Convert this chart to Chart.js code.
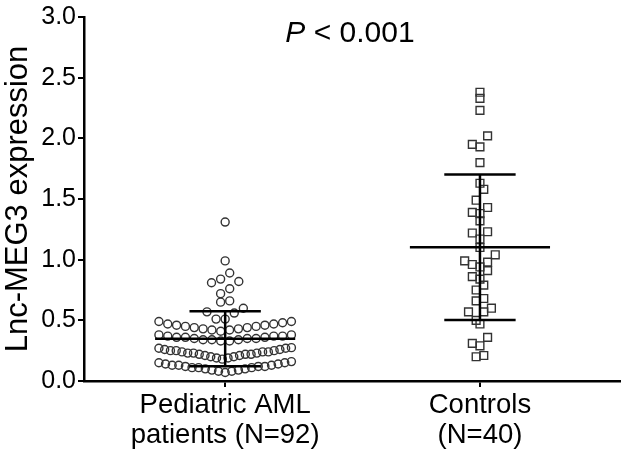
<!DOCTYPE html>
<html>
<head>
<meta charset="utf-8">
<script src="https://cdn.jsdelivr.net/npm/chart.js@4.4.1/dist/chart.umd.min.js"></script>
<style>
  html, body { margin: 0; padding: 0; background: #fff; }
  #wrap { width: 627px; height: 453px; }
</style>
</head>
<body>
<div id="wrap"><canvas id="dotChart" width="627" height="453"></canvas></div>
<script>
// values
const groupLabels = [["Pediatric AML", "patients (N=92)"], ["Controls", "(N=40)"]];
const groupCenters = [1, 2];
const amlValues = [
  1.31, 0.99, 0.89, 0.84, 0.82, 0.81, 0.76, 0.72, 0.66, 0.65, 0.60, 0.57, 0.56, 0.51, 0.51,
  0.41, 0.42, 0.42, 0.43, 0.43, 0.44, 0.44, 0.45, 0.45, 0.46, 0.46, 0.47, 0.47, 0.48, 0.49, 0.49,
  0.33, 0.33, 0.34, 0.34, 0.34, 0.35, 0.35, 0.35, 0.36, 0.36, 0.36, 0.37, 0.37, 0.37, 0.38, 0.38,
  0.18, 0.19, 0.19, 0.20, 0.20, 0.21, 0.21, 0.22, 0.22, 0.22, 0.23, 0.23, 0.23, 0.24, 0.24, 0.24,
  0.25, 0.25, 0.25, 0.26, 0.26, 0.27, 0.27, 0.275,
  0.07, 0.08, 0.08, 0.09, 0.09, 0.10, 0.10, 0.11, 0.11, 0.11, 0.12, 0.12, 0.12, 0.13, 0.13, 0.13,
  0.14, 0.14, 0.15, 0.15, 0.16,
];
const controlValues = [
  2.38, 2.33, 2.23, 2.02, 1.95, 1.93, 1.80, 1.63, 1.58, 1.49,
  1.43, 1.39, 1.38, 1.32, 1.23, 1.22, 1.17, 1.10, 1.04, 0.99,
  0.98, 0.96, 0.94, 0.91, 0.86, 0.84, 0.79, 0.75, 0.68, 0.66,
  0.60, 0.57, 0.57, 0.50, 0.47, 0.36, 0.31, 0.29, 0.21, 0.20,
];
const yTicks = [0, 0.5, 1.0, 1.5, 2.0, 2.5, 3.0];
const yTitle = "Lnc-MEG3 expression";
const pText = ["P", " < 0.001"];

const FONT = "'Liberation Sans', Arial, Helvetica, sans-serif";
Chart.defaults.font.family = FONT;
Chart.defaults.color = "#000";

// spread points of one group sideways, row by row (GraphPad style)
function swarm(values, center, binW, step, maxW) {
  const bins = {};
  values.forEach((v) => {
    const k = Math.floor((v - 0.06) / binW + 1e-9);
    (bins[k] = bins[k] || []).push(v);
  });
  const pts = [];
  Object.values(bins).forEach((list) => {
    list.sort((a, b) => a - b);
    const n = list.length;
    const sp = n > 1 ? Math.min(step, maxW / (n - 1)) : 0;
    const slots = [];
    for (let i = 0; i < n; i++) slots.push((i - (n - 1) / 2) * sp);
    slots.sort((a, b) => Math.abs(a) - Math.abs(b) || a - b);
    list.forEach((v, i) => pts.push({ x: center + slots[i], y: v }));
  });
  return pts;
}

function meanSd(arr) {
  const m = arr.reduce((a, b) => a + b, 0) / arr.length;
  const sd = Math.sqrt(arr.reduce((a, b) => a + (b - m) ** 2, 0) / (arr.length - 1));
  return { m, sd };
}

function errorBars(arr, c) {
  const { m, sd } = meanSd(arr);
  const segs = [
    [[c - 0.275, m], [c + 0.275, m]],
    [[c - 0.14, m + sd], [c + 0.14, m + sd]],
    [[c - 0.14, m - sd], [c + 0.14, m - sd]],
    [[c, m - sd], [c, m + sd]],
  ];
  return segs.map((s) => ({
    data: s.map((p) => ({ x: p[0], y: p[1] })),
    showLine: true,
    borderColor: "#000",
    borderWidth: 2.5,
    pointRadius: 0,
    fill: false,
  }));
}

const pLabelPlugin = {
  id: "pLabel",
  afterDraw(chart) {
    const ctx = chart.ctx;
    ctx.save();
    ctx.fillStyle = "#000";
    ctx.textBaseline = "alphabetic";
    ctx.font = "italic 30px " + FONT;
    const w1 = ctx.measureText(pText[0]).width;
    ctx.font = "30px " + FONT;
    const w2 = ctx.measureText(pText[1]).width;
    const x = 350 - (w1 + w2) / 2;
    ctx.font = "italic 30px " + FONT;
    ctx.fillText(pText[0], x, 42);
    ctx.font = "30px " + FONT;
    ctx.fillText(pText[1], x + w1, 42);
    ctx.restore();
  },
};

const ctx = document.getElementById("dotChart").getContext("2d");
const dotChart = new Chart(ctx, {
  type: "scatter",
  data: {
    datasets: [
      ...errorBars(amlValues, groupCenters[0]),
      ...errorBars(controlValues, groupCenters[1]),
      {
        label: "AML",
        data: swarm(amlValues, groupCenters[0], 0.11, 0.0357, 0.52),
        pointStyle: "circle",
        pointRadius: 4,
        borderWidth: 1.4,
        borderColor: "#333",
        backgroundColor: "rgba(255,255,255,0)",
      },
      {
        label: "Controls",
        data: swarm(controlValues, groupCenters[1], 0.11, 0.03, 0.15),
        pointStyle: "rect",
        pointRadius: 5.5,
        borderWidth: 1.4,
        borderColor: "#333",
        backgroundColor: "rgba(255,255,255,0)",
      },
    ],
  },
  options: {
    responsive: false,
    animation: false,
    layout: { padding: { top: 17, right: 0, left: 0, bottom: 0 } },
    plugins: {
      legend: { display: false },
      tooltip: { enabled: false },
    },
    scales: {
      x: {
        type: "linear",
        min: 0.446,
        max: 2.55,
        afterBuildTicks: (axis) => {
          axis.ticks = groupCenters.map((v) => ({ value: v }));
        },
        afterFit: (scale) => {
          scale.height = 72;
        },
        ticks: {
          autoSkip: false,
          maxRotation: 0,
          padding: 3,
          font: { size: 27.5, lineHeight: 1.1 },
          color: "#000",
          callback: (v) => groupLabels[groupCenters.indexOf(v)],
        },
        grid: {
          drawOnChartArea: false,
          tickLength: 6,
          color: "#000",
          lineWidth: 2,
        },
        border: { display: true, color: "#000", width: 2.5 },
      },
      y: {
        min: 0,
        max: 3,
        afterBuildTicks: (axis) => {
          axis.ticks = yTicks.map((v) => ({ value: v }));
        },
        afterFit: (scale) => {
          scale.width = 84;
        },
        ticks: {
          padding: 2,
          font: { size: 25 },
          color: "#000",
          callback: (v) => v.toFixed(1),
        },
        grid: {
          drawOnChartArea: false,
          tickLength: 6,
          color: "#000",
          lineWidth: 2,
        },
        border: { display: true, color: "#000", width: 2.5 },
        title: {
          display: true,
          text: yTitle,
          font: { size: 31 },
          color: "#000",
          padding: { top: 0, bottom: 0 },
        },
      },
    },
  },
  plugins: [pLabelPlugin],
});
</script>
</body>
</html>
